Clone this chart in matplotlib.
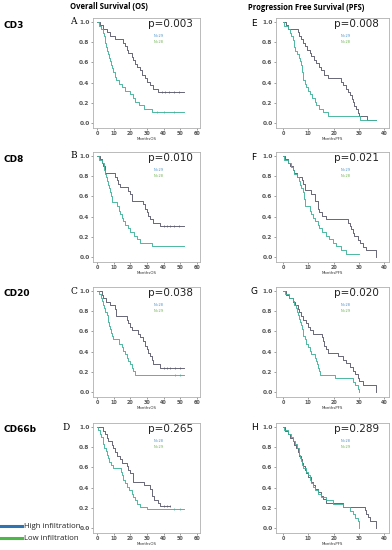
import matplotlib
matplotlib.use("Agg")
import matplotlib.pyplot as plt

# -- data (months, survival fraction) -- #
row_labels = ["CD3", "CD8", "CD20", "CD66b"]
os_letters = ["A", "B", "C", "D"]
pfs_letters = ["E", "F", "G", "H"]
os_pvals = ["p=0.003", "p=0.010", "p=0.038", "p=0.265"]
pfs_pvals = ["p=0.008", "p=0.021", "p=0.020", "p=0.289"]
os_n = [("N=29", "N=28"), ("N=29", "N=28"), ("N=28", "N=29"), ("N=28", "N=29")]
pfs_n = [("N=29", "N=28"), ("N=29", "N=28"), ("N=28", "N=29"), ("N=28", "N=29")]
os_ticks = [0, 10, 20, 30, 40, 50, 60]
pfs_ticks = [0, 10, 20, 30, 40]
y_ticks = [0.0, 0.2, 0.4, 0.6, 0.8, 1.0]

# OS, high infiltration
a_hi_t = [0, 1.8, 3.8, 5.8, 7.8, 10.8, 15.8, 16.8, 17.8, 18.8, 20.8, 21.8, 22.8, 23.8, 25.8, 26.8, 28.8, 29.8, 31.8, 33.8, 36.8, 52]
a_hi_s = [1.0, 0.97, 0.93, 0.90, 0.86, 0.83, 0.79, 0.76, 0.72, 0.69, 0.65, 0.62, 0.58, 0.55, 0.52, 0.48, 0.45, 0.41, 0.38, 0.34, 0.31, 0.31]
b_hi_t = [0, 1.8, 2.8, 3.8, 4.8, 10.8, 11.8, 12.8, 13.8, 18.8, 19.6, 20.8, 27.8, 28.8, 29.8, 30.8, 31.8, 33.8, 37.8, 52]
b_hi_s = [1.0, 0.97, 0.93, 0.90, 0.83, 0.79, 0.76, 0.72, 0.69, 0.65, 0.62, 0.55, 0.52, 0.48, 0.45, 0.41, 0.38, 0.34, 0.31, 0.31]
c_hi_t = [0, 2.8, 3.8, 5.4, 7.8, 10.8, 11.5, 17.8, 18.8, 19.8, 20.8, 24.8, 25.8, 27.8, 28.8, 29.8, 30.8, 31.8, 32.8, 33.8, 37.8, 52]
c_hi_s = [1.0, 0.96, 0.93, 0.89, 0.86, 0.82, 0.75, 0.71, 0.68, 0.64, 0.61, 0.57, 0.54, 0.50, 0.46, 0.43, 0.39, 0.36, 0.32, 0.28, 0.24, 0.24]
d_hi_t = [0, 3.8, 4.8, 5.8, 6.8, 8.8, 9.8, 10.8, 11.8, 13.8, 14.8, 17.8, 18.8, 19.8, 21.8, 28, 31.8, 32.8, 34.2, 36.8, 37.8, 43.8]
d_hi_s = [1.0, 0.96, 0.93, 0.89, 0.86, 0.82, 0.79, 0.75, 0.71, 0.68, 0.64, 0.61, 0.57, 0.54, 0.46, 0.43, 0.39, 0.32, 0.28, 0.25, 0.22, 0.22]

# OS, low infiltration
a_lo_t = [0, 1, 2.5, 3.5, 4, 4.5, 5, 5.5, 6, 6.5, 7, 7.7, 8.4, 9.1, 9.8, 10.5, 11.5, 13, 15, 17, 19.5, 21.5, 23, 25, 28, 33, 52]
a_lo_s = [1.0, 0.96, 0.93, 0.89, 0.86, 0.82, 0.79, 0.75, 0.71, 0.68, 0.64, 0.61, 0.57, 0.54, 0.50, 0.46, 0.43, 0.39, 0.36, 0.32, 0.29, 0.25, 0.21, 0.18, 0.14, 0.11, 0.11]
b_lo_t = [0, 1, 2.8, 4.4, 5, 5.4, 6.2, 6.8, 7.4, 7.8, 8.4, 8.8, 11.8, 13, 13.8, 14.8, 15.8, 16.8, 18.5, 20, 22, 23.8, 25.8, 32.8, 52]
b_lo_s = [1.0, 0.96, 0.93, 0.86, 0.82, 0.79, 0.75, 0.71, 0.68, 0.64, 0.60, 0.54, 0.50, 0.46, 0.43, 0.39, 0.36, 0.32, 0.29, 0.25, 0.21, 0.18, 0.14, 0.11, 0.11]
c_lo_t = [0, 1, 2.4, 3.2, 3.8, 4.3, 4.8, 5.8, 6.3, 6.8, 7.3, 7.8, 8.3, 8.8, 9.8, 13.4, 14.8, 15.8, 16.8, 17.8, 18.8, 19.8, 20.8, 21.8, 22.8, 52]
c_lo_s = [1.0, 0.97, 0.93, 0.90, 0.86, 0.83, 0.79, 0.76, 0.72, 0.69, 0.65, 0.62, 0.58, 0.55, 0.52, 0.48, 0.45, 0.41, 0.38, 0.34, 0.31, 0.28, 0.24, 0.21, 0.17, 0.17]
d_lo_t = [0, 0.8, 1.8, 2.6, 3.4, 3.8, 4.2, 5.4, 6.2, 6.8, 7.4, 8.4, 9.4, 14.2, 15, 15.8, 16.8, 18.2, 19.4, 20.8, 21.8, 22.8, 23.8, 25.8, 29.8, 52]
d_lo_s = [1.0, 0.97, 0.93, 0.90, 0.86, 0.83, 0.79, 0.76, 0.72, 0.69, 0.65, 0.62, 0.59, 0.55, 0.52, 0.48, 0.45, 0.41, 0.38, 0.34, 0.31, 0.28, 0.24, 0.21, 0.19, 0.19]

# OS censoring marks
os_cens_hi = [[39, 41, 43, 46, 49], [40, 42, 44, 46, 49], [40, 42, 44, 47, 50], [40, 42, 44]]
os_cens_lo = [[36, 40, 46], [], [47, 50], [46, 50]]

# PFS, high infiltration
e_hi_t = [0, 1.2, 1.9, 5.8, 6.2, 7.2, 7.8, 8.5, 9.5, 10.5, 11.1, 12.2, 13.1, 14.2, 15.1, 16.4, 17.7, 23.0, 23.7, 24.8, 25.7, 26.6, 27.4, 27.9, 28.3, 29.0, 29.7, 30.3, 33.2, 37.0]
e_hi_s = [1.0, 0.97, 0.93, 0.90, 0.86, 0.83, 0.79, 0.76, 0.72, 0.69, 0.66, 0.62, 0.59, 0.55, 0.52, 0.48, 0.45, 0.41, 0.38, 0.34, 0.31, 0.28, 0.24, 0.21, 0.17, 0.14, 0.10, 0.07, 0.03, 0.03]
f_hi_t = [0, 0.9, 1.9, 2.8, 3.8, 4.5, 5.6, 7.5, 7.8, 8.5, 11.1, 12.5, 13.8, 14.4, 15.5, 17.1, 25.7, 26.4, 27.0, 27.7, 28.3, 29.7, 30.6, 31.7, 33.0, 37.0]
f_hi_s = [1.0, 0.97, 0.93, 0.90, 0.86, 0.83, 0.79, 0.76, 0.72, 0.66, 0.62, 0.55, 0.48, 0.45, 0.41, 0.38, 0.34, 0.31, 0.28, 0.24, 0.21, 0.17, 0.14, 0.10, 0.07, 0.0]
g_hi_t = [0, 1.2, 2.5, 3.8, 4.9, 5.8, 6.5, 7.2, 7.8, 8.9, 9.8, 10.7, 11.8, 15.5, 16.0, 16.4, 17.1, 17.7, 21.7, 23.7, 25.0, 26.4, 27.7, 28.7, 29.7, 30.3, 31.7, 37.0]
g_hi_s = [1.0, 0.96, 0.93, 0.89, 0.86, 0.82, 0.79, 0.75, 0.71, 0.68, 0.64, 0.61, 0.57, 0.54, 0.50, 0.46, 0.43, 0.39, 0.36, 0.32, 0.29, 0.25, 0.21, 0.18, 0.14, 0.11, 0.07, 0.0]
h_hi_t = [0, 0.9, 1.9, 2.9, 3.8, 4.5, 5.2, 5.8, 6.5, 7.2, 7.5, 7.8, 8.5, 9.1, 9.8, 11.1, 11.8, 12.5, 13.8, 15.1, 15.8, 17.1, 23.7, 32.3, 33.0, 33.6, 34.3, 37.0]
h_hi_s = [1.0, 0.96, 0.93, 0.89, 0.86, 0.82, 0.79, 0.75, 0.71, 0.68, 0.64, 0.61, 0.57, 0.54, 0.50, 0.46, 0.43, 0.39, 0.36, 0.32, 0.29, 0.25, 0.21, 0.18, 0.14, 0.11, 0.07, 0.0]

# PFS, low infiltration
e_lo_t = [0, 0.5, 1.9, 2.8, 3.2, 3.8, 4.2, 4.9, 5.6, 6.2, 6.8, 7.2, 7.5, 8.1, 8.6, 9.1, 9.8, 10.5, 11.5, 12.5, 13.1, 14.4, 15.8, 17.7, 30.6, 37.0]
e_lo_s = [1.0, 0.96, 0.93, 0.89, 0.86, 0.82, 0.75, 0.71, 0.68, 0.64, 0.61, 0.57, 0.50, 0.43, 0.39, 0.36, 0.32, 0.29, 0.25, 0.21, 0.18, 0.14, 0.11, 0.07, 0.03, 0.03]
f_lo_t = [0, 0.5, 1.9, 3.2, 3.8, 4.5, 5.6, 6.2, 6.8, 7.2, 7.8, 8.2, 8.5, 10.5, 11.1, 11.8, 12.5, 13.8, 14.4, 15.5, 17.1, 18.1, 19.7, 21.1, 23.0, 25.0, 30.3]
f_lo_s = [1.0, 0.96, 0.93, 0.89, 0.86, 0.82, 0.79, 0.75, 0.71, 0.68, 0.64, 0.57, 0.50, 0.46, 0.43, 0.39, 0.36, 0.32, 0.29, 0.25, 0.21, 0.18, 0.14, 0.11, 0.07, 0.03, 0.03]
g_lo_t = [0, 0.9, 2.5, 3.8, 4.5, 5.2, 5.6, 5.8, 6.5, 6.8, 7.2, 7.5, 7.8, 8.1, 8.5, 9.1, 9.8, 10.5, 11.1, 12.5, 13.1, 13.4, 13.8, 14.2, 14.7, 20.4, 27.7, 28.7, 29.7, 30.3]
g_lo_s = [1.0, 0.97, 0.93, 0.90, 0.86, 0.83, 0.79, 0.76, 0.72, 0.69, 0.66, 0.62, 0.59, 0.55, 0.52, 0.48, 0.45, 0.41, 0.38, 0.34, 0.31, 0.28, 0.24, 0.21, 0.17, 0.14, 0.10, 0.07, 0.03, 0.0]
h_lo_t = [0, 0.5, 1.9, 3.2, 4.1, 4.8, 5.4, 6.2, 6.5, 6.8, 7.2, 7.5, 7.8, 8.9, 9.8, 10.5, 11.1, 11.8, 12.8, 13.8, 15.1, 17.1, 19.7, 23.7, 26.4, 27.7, 28.7, 29.7, 30.3]
h_lo_s = [1.0, 0.97, 0.93, 0.90, 0.86, 0.83, 0.79, 0.76, 0.72, 0.69, 0.66, 0.62, 0.59, 0.55, 0.52, 0.48, 0.45, 0.41, 0.38, 0.34, 0.31, 0.28, 0.24, 0.21, 0.17, 0.14, 0.10, 0.07, 0.0]

os_curves = [(a_hi_t, a_hi_s, a_lo_t, a_lo_s), (b_hi_t, b_hi_s, b_lo_t, b_lo_s),
             (c_hi_t, c_hi_s, c_lo_t, c_lo_s), (d_hi_t, d_hi_s, d_lo_t, d_lo_s)]
pfs_curves = [(e_hi_t, e_hi_s, e_lo_t, e_lo_s), (f_hi_t, f_hi_s, f_lo_t, f_lo_s),
              (g_hi_t, g_hi_s, g_lo_t, g_lo_s), (h_hi_t, h_hi_s, h_lo_t, h_lo_s)]

HI_COL = "#5b5b6e"
LO_COL = "#3fb39a"
W, H = 392.0, 550.0


def fx(px):
    return px / W


def fy(py):
    return 1 - py / H


def km_panel(rect, curves, cens_hi, cens_lo, xlim, xticks, xlabel, pval, ns):
    ax = fig.add_axes(rect)
    t1, s1, t2, s2 = curves
    ax.step(t1, s1, where='post', color=HI_COL, lw=0.65)
    ax.step(t2, s2, where='post', color=LO_COL, lw=0.65)
    for c in cens_hi:
        ax.plot(c, s1[-1], marker='|', ms=2, mew=0.5, color=HI_COL)
    for c in cens_lo:
        ax.plot(c, s2[-1], marker='|', ms=2, mew=0.5, color=LO_COL)
    ax.set_xlim(*xlim)
    ax.set_ylim(-0.05, 1.04)
    ax.set_xticks(xticks)
    ax.set_yticks(y_ticks)
    ax.set_yticklabels(['{:.1f}'.format(v) for v in y_ticks], fontsize=4.2,
                       fontweight='bold', color='#333333')
    ax.set_xticklabels([str(v) for v in xticks], fontsize=3.5,
                       fontweight='bold', color='#333333')
    ax.tick_params(length=1.5, width=0.4, pad=1, colors='#555555')
    ax.set_xlabel(xlabel, fontsize=2.8, labelpad=0.5, color='#333333')
    for sp in ax.spines.values():
        sp.set_color('#b0b0b0')
        sp.set_linewidth(0.6)
    ax.text(0.51, 0.945, pval, transform=ax.transAxes, fontsize=7.5,
            ha='left', va='center', color='#222222')
    ax.text(0.57, 0.835, ns[0], transform=ax.transAxes, fontsize=2.5,
            ha='left', va='center', color='#4a8fc8')
    ax.text(0.57, 0.78, ns[1], transform=ax.transAxes, fontsize=2.5,
            ha='left', va='center', color='#6ab04c')
    return ax


fig = plt.figure(figsize=(3.92, 5.5), dpi=100)

row_tops = [18, 152, 287, 423]
os_letter_x = [73, 74, 74, 66]
row_h = 110
for i in range(4):
    top = row_tops[i]
    bottom = fy(top + row_h)
    km_panel([fx(93), bottom, fx(107), row_h / H], os_curves[i],
             os_cens_hi[i], os_cens_lo[i], (-2.4, 61.8), os_ticks,
             'MonthsOS', os_pvals[i], os_n[i])
    km_panel([fx(276), bottom, fx(113), row_h / H], pfs_curves[i],
             [], [], (-2.8, 42), pfs_ticks,
             'MonthsPFS', pfs_pvals[i], pfs_n[i])
    fig.text(fx(4), fy(top + 7), row_labels[i], fontsize=6.5,
             fontweight='bold', ha='left', va='center')
    fig.text(fx(os_letter_x[i]), fy(top + 4), os_letters[i], fontsize=6.5,
             family='DejaVu Serif', ha='center', va='center')
    fig.text(fx(254), fy(top + 5), pfs_letters[i], fontsize=6.5,
             ha='center', va='center')

fig.text(fx(109), fy(6.5), 'Overall Survival (OS)', fontsize=5.5,
         family='Open Sans', fontweight='bold', ha='center', va='center')
fig.text(fx(306), fy(7), 'Progression Free Survival (PFS)', fontsize=5.5,
         family='Open Sans', fontweight='bold', ha='center', va='center')

# -- legend at bottom left -- #
fig.add_artist(plt.Line2D([fx(0), fx(22)], [fy(526), fy(526)], color='#2e74b5', lw=2.2))
fig.add_artist(plt.Line2D([fx(0), fx(22)], [fy(538), fy(538)], color='#4cb848', lw=2.2))
fig.text(fx(23.5), fy(526), 'High infiltration', fontsize=5.6, family='Open Sans',
         ha='left', va='center', color='#222222')
fig.text(fx(23.5), fy(538), 'Low infiltration', fontsize=5.6, family='Open Sans',
         ha='left', va='center', color='#222222')

fig.savefig('out.png', dpi=100)
